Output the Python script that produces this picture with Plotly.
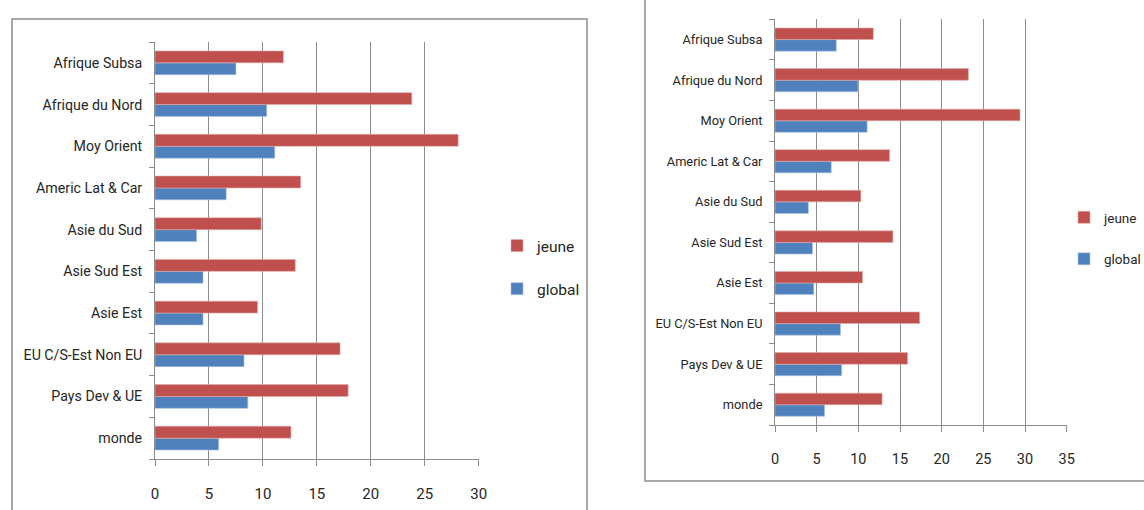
import plotly.graph_objects as go

categories = ["monde", "Pays Dev & UE", "EU C/S-Est Non EU", "Asie Est", "Asie Sud Est",
              "Asie du Sud", "Americ Lat & Car", "Moy Orient", "Afrique du Nord", "Afrique Subsa"]

left_jeune = [12.6, 17.9, 17.15, 9.5, 13.0, 9.85, 13.5, 28.1, 23.8, 11.9]
left_global = [5.9, 8.6, 8.25, 4.45, 4.45, 3.85, 6.6, 11.1, 10.35, 7.5]

right_jeune = [12.85, 15.9, 17.35, 10.5, 14.15, 10.3, 13.75, 29.4, 23.2, 11.8]
right_global = [5.95, 8.0, 7.85, 4.65, 4.5, 4.0, 6.75, 11.05, 9.95, 7.35]

left_ticks = [0, 5, 10, 15, 20, 25, 30]
right_ticks = [0, 5, 10, 15, 20, 25, 30, 35]

RED = "#C0504D"
BLUE = "#4F81BD"
GRID = "#8C8C8C"
TXT = "#262626"
FONT = "Roboto, sans-serif"

W, H = 1144, 510

fig = go.Figure()

fig.add_trace(go.Bar(y=categories, x=left_global, orientation="h", name="global",
                     marker=dict(color=BLUE, line=dict(color="#A9C1E0", width=0.6)),
                     xaxis="x", yaxis="y", legend="legend", legendgroup="lg", legendrank=2))
fig.add_trace(go.Bar(y=categories, x=left_jeune, orientation="h", name="jeune",
                     marker=dict(color=RED, line=dict(color="#E0A9A8", width=0.6)),
                     xaxis="x", yaxis="y", legend="legend", legendgroup="lj", legendrank=1))
fig.add_trace(go.Bar(y=categories, x=right_global, orientation="h", name="global",
                     marker=dict(color=BLUE, line=dict(color="#A9C1E0", width=0.6)),
                     xaxis="x2", yaxis="y2", legend="legend2", legendgroup="rg", legendrank=2))
fig.add_trace(go.Bar(y=categories, x=right_jeune, orientation="h", name="jeune",
                     marker=dict(color=RED, line=dict(color="#E0A9A8", width=0.6)),
                     xaxis="x2", yaxis="y2", legend="legend2", legendgroup="rj", legendrank=1))

def xaxis_cfg(dom, rng, ticks, anchor, fs):
    return dict(domain=dom, range=rng, tickvals=ticks, anchor=anchor,
                showgrid=True, gridcolor=GRID, gridwidth=1,
                showline=True, linecolor=GRID, linewidth=1,
                ticks="outside", ticklen=6, tickcolor=GRID,
                ticklabelstandoff=15, zeroline=False, fixedrange=True,
                tickfont=dict(family=FONT, size=fs, color=TXT))

def yaxis_cfg(dom, anchor, fs):
    return dict(domain=dom, anchor=anchor, type="category",
                categoryorder="array", categoryarray=categories,
                showline=True, linecolor=GRID, linewidth=1,
                ticks="outside", ticklen=5, tickcolor=GRID, tickson="boundaries",
                ticklabelstandoff=9, showgrid=False, fixedrange=True,
                tickfont=dict(family=FONT, size=fs, color=TXT))

fig.update_layout(
    width=W, height=H,
    margin=dict(l=0, r=0, t=0, b=0, autoexpand=False),
    paper_bgcolor="white", plot_bgcolor="white",
    barmode="group", bargap=0.43, bargroupgap=0,
    xaxis=xaxis_cfg([155 / W, 478.7 / W], [0, 30], left_ticks, "y", 15),
    yaxis=yaxis_cfg([1 - 459 / H, 1 - 42 / H], "x", 14.2),
    xaxis2=xaxis_cfg([775 / W, 1066.7 / W], [0, 35], right_ticks, "y2", 14.5),
    yaxis2=yaxis_cfg([1 - 425 / H, 1 - 19.3 / H], "x2", 12.8),
    legend=dict(xref="container", yref="container",
                x=497 / W, y=1 - 229 / H, xanchor="left", yanchor="top",
                traceorder="grouped", tracegroupgap=20,
                font=dict(family=FONT, size=15.5, color=TXT),
                itemwidth=30, bgcolor="rgba(0,0,0,0)"),
    legend2=dict(xref="container", yref="container",
                 x=1064 / W, y=1 - 202 / H, xanchor="left", yanchor="top",
                 traceorder="grouped", tracegroupgap=21,
                 font=dict(family=FONT, size=13.5, color=TXT),
                 itemwidth=30, bgcolor="rgba(0,0,0,0)"),
    shapes=[
        dict(type="rect", xref="paper", yref="paper",
             x0=12 / W, x1=587 / W, y0=-0.05, y1=1 - 19 / H,
             line=dict(color="#8C8C8C", width=1.5), fillcolor="rgba(0,0,0,0)", layer="below"),
        dict(type="rect", xref="paper", yref="paper",
             x0=645 / W, x1=1.05, y0=1 - 481 / H, y1=1.05,
             line=dict(color="#8C8C8C", width=1.5), fillcolor="rgba(0,0,0,0)", layer="below"),
    ],
    showlegend=True,
)

fig.write_html("out.html", config={"displayModeBar": False},
               post_script="document.body.style.margin='0';document.body.style.overflow='hidden';")
